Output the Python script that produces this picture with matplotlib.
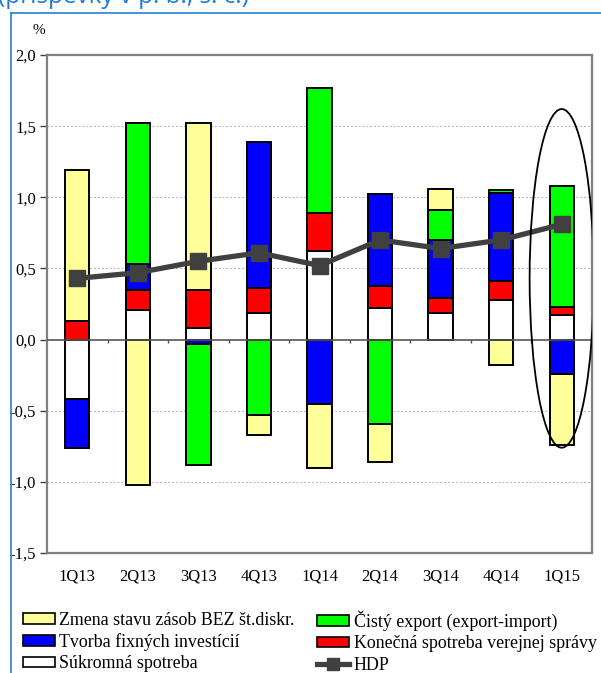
import matplotlib
matplotlib.use("Agg")
import matplotlib.pyplot as plt
import numpy as np
from matplotlib.lines import Line2D
from matplotlib.patches import Ellipse, Patch
from matplotlib.ticker import FuncFormatter, MultipleLocator

# contributions to GDP growth (p.p., q/q)
quarters = ["1Q13", "2Q13", "3Q13", "4Q13", "1Q14", "2Q14", "3Q14", "4Q14", "1Q15"]
sukromna = [-0.42, 0.21, 0.08, 0.19, 0.62, 0.22, 0.19, 0.28, 0.17]
verejna = [0.13, 0.14, 0.27, 0.17, 0.27, 0.16, 0.10, 0.13, 0.06]
investicie = [-0.34, 0.18, -0.03, 1.03, -0.45, 0.64, 0.41, 0.62, -0.24]
export = [0.00, 0.99, -0.85, -0.53, 0.88, -0.59, 0.21, 0.02, 0.85]
zasoby = [1.06, -1.02, 1.17, -0.14, -0.45, -0.27, 0.15, -0.18, -0.50]
hdp = [0.43, 0.47, 0.55, 0.61, 0.52, 0.70, 0.64, 0.70, 0.81]

series = [
    ("Súkromná spotreba", sukromna, "#ffffff"),
    ("Konečná spotreba verejnej správy", verejna, "#ff0000"),
    ("Tvorba fixných investícií", investicie, "#0000ff"),
    ("Čistý export (export-import)", export, "#00ff00"),
    ("Zmena stavu zásob BEZ št.diskr.", zasoby, "#ffff99"),
]

SERIF = "Liberation Serif"
W, H = 601, 673

fig = plt.figure(figsize=(W / 100, H / 100), dpi=100)
ax = fig.add_axes([47 / W, 1 - 553 / H, 545 / W, 498 / H])

x = np.arange(len(quarters))
pos_base = np.zeros(len(quarters))
neg_base = np.zeros(len(quarters))
for name, vals, color in series:
    vals = np.array(vals)
    bottom = np.where(vals >= 0, pos_base, neg_base)
    ax.bar(x, vals, 0.4, bottom=bottom, color=color, edgecolor="black",
           linewidth=1.4, zorder=3)
    pos_base += np.clip(vals, 0, None)
    neg_base += np.clip(vals, None, 0)

ax.plot(x, hdp, color="#404040", linewidth=3.8, marker="s", markersize=11,
        zorder=5)

# highlight the latest quarter
ax.add_patch(Ellipse((x[-1], 0.43), 1.06, 2.38, facecolor="none",
                     edgecolor="black", linewidth=1.3, zorder=6))

ax.set_xlim(-0.5, len(quarters) - 0.5)
ax.set_ylim(-1.5, 2.0)
ax.yaxis.set_major_locator(MultipleLocator(0.5))
ax.yaxis.set_major_formatter(FuncFormatter(lambda v, p: f"{v:.1f}".replace(".", ",")))
for g in [-1.0, -0.5, 0.5, 1.0, 1.5]:
    ax.axhline(g, color="#b0b0b0", linewidth=0.7, linestyle=(0, (2, 2)), zorder=1)
ax.axhline(0, color="#555555", linewidth=1.2, zorder=4)
ax.vlines(x[:-1] + 0.5, -0.025, 0, color="#555555", linewidth=1.0, zorder=4)

ax.set_xticks(x)
ax.set_xticklabels(quarters, fontfamily=SERIF, fontsize=12)
ax.tick_params(axis="x", length=0, pad=11)
ax.tick_params(axis="y", direction="out", length=5, width=1, color="#404040",
               pad=3, labelsize=12)
for lab in ax.get_yticklabels():
    lab.set_fontfamily(SERIF)

for side in ["left", "right", "top", "bottom"]:
    ax.spines[side].set_color("#808080")
    ax.spines[side].set_linewidth(1.6)

fig.text(39 / W, 1 - 31 / H, "%", fontfamily=SERIF, fontsize=11,
         ha="center", va="center")

# heading runs off the top edge; only its lower part is in view
fig.text(-2 / W, 1 - 3 / H, "(príspevky v p. b., s. c.)", color="#1f7ad4",
         fontsize=17.5, fontfamily="Open Sans", va="baseline")
fig.add_artist(Line2D([10.7 / W, 10.7 / W], [0, 1 - 12.7 / H],
                      color="#1f85d6", linewidth=1.2))
fig.add_artist(Line2D([10.7 / W, 1], [1 - 12.7 / H, 1 - 12.7 / H],
                      color="#1f85d6", linewidth=1.2))

handles = {name: Patch(facecolor=color, edgecolor="black", linewidth=1.2)
           for name, vals, color in series}
hdp_handle = Line2D([], [], color="#404040", linewidth=3.8, marker="s",
                    markersize=9)

col1 = ["Zmena stavu zásob BEZ št.diskr.", "Tvorba fixných investícií",
        "Súkromná spotreba"]
col2 = ["Čistý export (export-import)", "Konečná spotreba verejnej správy"]
leg_kw = dict(frameon=False, borderpad=0, borderaxespad=0, handlelength=1.8,
              handleheight=0.55, handletextpad=0.25, labelspacing=0.24,
              prop={"family": SERIF, "size": 12.9}, loc="center left")
fig.legend([handles[n] for n in col1], col1,
           bbox_to_anchor=(22.7 / W, 1 - 642 / H), **leg_kw)
fig.legend([handles[n] for n in col2] + [hdp_handle], col2 + ["HDP"],
           bbox_to_anchor=(317 / W, 1 - 642 / H), **leg_kw)

fig.savefig("out.png", dpi=100)
